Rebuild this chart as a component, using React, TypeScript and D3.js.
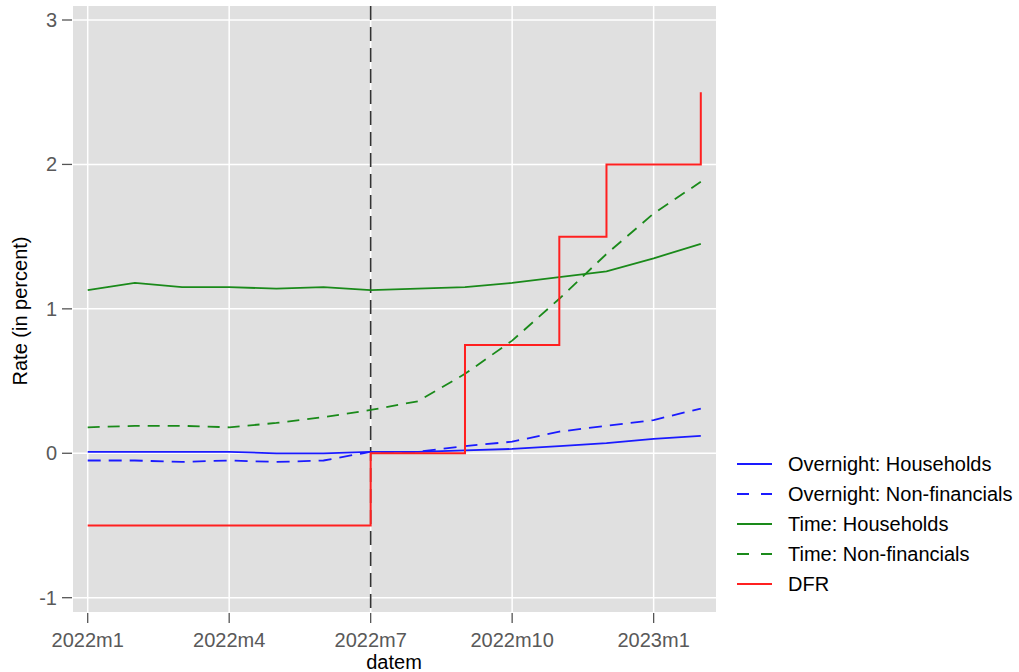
import React from "react";
import * as d3 from "d3";

const months = ["2022m1","2022m2","2022m3","2022m4","2022m5","2022m6","2022m7","2022m8","2022m9","2022m10","2022m11","2022m12","2023m1","2023m2"];
const overnightHouseholds = [0.01,0.01,0.01,0.01,0.0,0.0,0.01,0.01,0.02,0.03,0.05,0.07,0.10,0.12];
const overnightNonFin = [-0.05,-0.05,-0.06,-0.05,-0.06,-0.05,0.01,0.01,0.05,0.08,0.15,0.19,0.23,0.31];
const timeHouseholds = [1.13,1.18,1.15,1.15,1.14,1.15,1.13,1.14,1.15,1.18,1.22,1.26,1.35,1.45];
const timeNonFin = [0.18,0.19,0.19,0.18,0.21,0.25,0.30,0.36,0.55,0.78,1.07,1.38,1.66,1.88];
const dfr = [-0.5,-0.5,-0.5,-0.5,-0.5,-0.5,0,0,0.75,0.75,1.5,2.0,2.0,2.5];
const xTicks = ["2022m1","2022m4","2022m7","2022m10","2023m1"];
const yTicks = [-1,0,1,2,3];
const vlineMonth = "2022m7";

const series = [
  { name: "Overnight: Households", values: overnightHouseholds, color: "#1a1aff", dash: null, step: false },
  { name: "Overnight: Non-financials", values: overnightNonFin, color: "#1a1aff", dash: "13,8", step: false },
  { name: "Time: Households", values: timeHouseholds, color: "#1a8a1a", dash: null, step: false },
  { name: "Time: Non-financials", values: timeNonFin, color: "#1a8a1a", dash: "12,8", step: false },
  { name: "DFR", values: dfr, color: "#ff2020", dash: null, step: true },
];

const W = 1019, H = 672;
const L = 73, R = 716, T = 6, B = 612;
const FONT = "'Liberation Sans', Arial, sans-serif";
const FS = 20;

export default function App() {
  const x = d3.scaleLinear().domain([0, 13]).range([87.7, 700.8]);
  const y = d3.scaleLinear().domain([-1, 3]).range([597.7, 20]);
  const idx = (m: string) => months.indexOf(m);

  return (
    <svg width={W} height={H} style={{ position: "absolute", left: 0, top: 0, background: "#fff" }} fontFamily={FONT}>
      <rect x={L} y={T} width={R - L} height={B - T} fill="#e0e0e0" />
      {yTicks.map(t => (
        <g key={"y" + t}>
          <line x1={L} x2={R} y1={y(t)} y2={y(t)} stroke="#fff" strokeWidth={1.5} />
          <line x1={62} x2={72} y1={y(t)} y2={y(t)} stroke="#555" strokeWidth={1.3} />
          <text x={57} y={y(t)} dy="0.35em" textAnchor="end" fontSize={FS} fill="#595959">{t}</text>
        </g>
      ))}
      {xTicks.map(t => (
        <g key={"x" + t}>
          <line x1={x(idx(t))} x2={x(idx(t))} y1={T} y2={B} stroke="#fff" strokeWidth={1.5} />
          <line x1={x(idx(t))} x2={x(idx(t))} y1={613} y2={623} stroke="#555" strokeWidth={1.3} />
          <text x={x(idx(t))} y={647} textAnchor="middle" fontSize={FS} fill="#595959">{t}</text>
        </g>
      ))}
      <line x1={x(idx(vlineMonth))} x2={x(idx(vlineMonth))} y1={T} y2={B} stroke="#333" strokeWidth={1.6} strokeDasharray="14,7" />
      {series.map(s => {
        const gen = d3.line<number>().x((_, i) => x(i)).y(v => y(v));
        if (s.step) gen.curve(d3.curveStepAfter);
        return (
          <path key={s.name} d={gen(s.values) || ""} fill="none" stroke={s.color} strokeWidth={s.step ? 2 : 1.8}
            strokeDasharray={s.dash || undefined} />
        );
      })}
      <text transform={`translate(27,311) rotate(-90)`} textAnchor="middle" fontSize={FS} fill="#000">Rate (in percent)</text>
      <text x={394} y={669} textAnchor="middle" fontSize={FS} fill="#000">datem</text>
      {series.map((s, i) => {
        const ly = 464 + i * 30;
        return (
          <g key={"lg" + s.name}>
            <line x1={737} x2={772} y1={ly} y2={ly} stroke={s.color} strokeWidth={2} strokeDasharray={s.dash ? "12,12" : undefined} />
            <text x={788} y={ly} dy="0.35em" fontSize={FS} fill="#000">{s.name}</text>
          </g>
        );
      })}
    </svg>
  );
}
